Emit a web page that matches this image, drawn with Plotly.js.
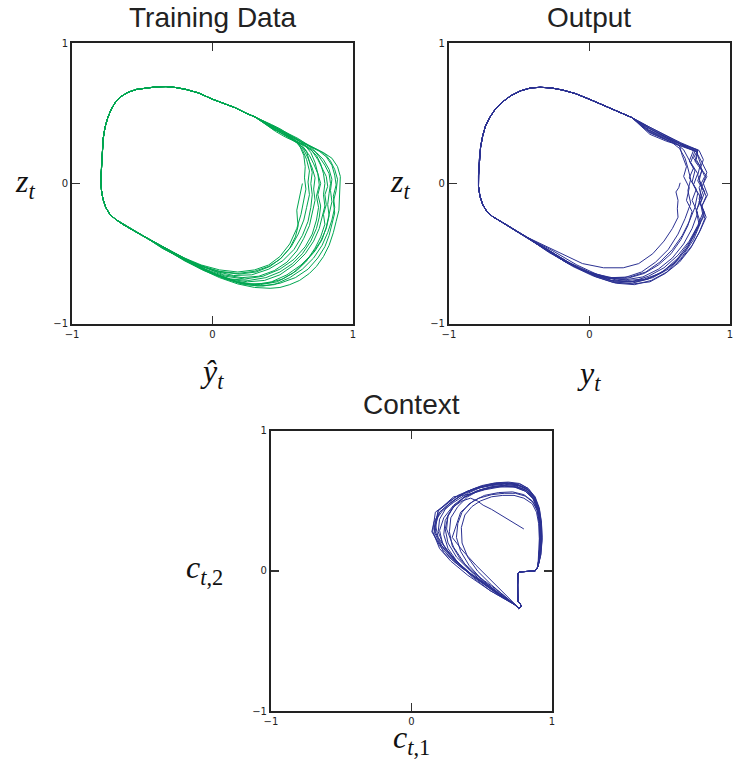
<!DOCTYPE html>
<html><head><meta charset="utf-8">
<script src="https://cdn.plot.ly/plotly-3.0.1.min.js"></script>
<style>html,body{margin:0;padding:0;background:#fff}#chart{width:734px;height:767px}</style>
</head><body><div id="chart"></div>
<script>
// ---------- axis ticks ----------
const tickValues = [-1, 0, 1];
const tickLabels = ['\u22121', '0', '1'];

// ---------- Training Data: points are [y_hat, z] ----------
const trainStart = [[0.64,0.0],[0.63,-0.05],[0.615,-0.11],[0.6,-0.19],[0.605,-0.26],[0.61,-0.3],[0.59,-0.38],[0.55,-0.46],[0.48,-0.54],[0.4,-0.59],[0.3,-0.625],[0.18,-0.64],[0.05,-0.625],[-0.08,-0.585],[-0.2,-0.535],[-0.32,-0.47],[-0.45,-0.40]];
const trainShared = [[-0.45,-0.40],[-0.52,-0.36],[-0.58,-0.325],[-0.64,-0.29],[-0.69,-0.255],[-0.73,-0.22],[-0.76,-0.17],[-0.78,-0.11],[-0.79,-0.05],[-0.795,0.02],[-0.79,0.12],[-0.785,0.22],[-0.778,0.32],[-0.765,0.40],[-0.745,0.47],[-0.72,0.53],[-0.69,0.58],[-0.65,0.62],[-0.6,0.65],[-0.54,0.67],[-0.47,0.68],[-0.4,0.688],[-0.33,0.69],[-0.26,0.683],[-0.19,0.67],[-0.1,0.645],[0.0,0.6],[0.08,0.572],[0.16,0.54],[0.24,0.5],[0.3,0.475]];
const trainLoop1 = [[0.3,0.475],[0.37,0.44],[0.44,0.40],[0.51,0.36],[0.57,0.32],[0.62,0.27],[0.65,0.2],[0.66,0.12],[0.655,0.04],[0.665,-0.04],[0.65,-0.12],[0.63,-0.22],[0.6,-0.32],[0.55,-0.43],[0.48,-0.52],[0.4,-0.58],[0.3,-0.615],[0.18,-0.63],[0.05,-0.615],[-0.08,-0.58],[-0.2,-0.53],[-0.32,-0.47],[-0.45,-0.40]];
const trainLoop2 = [[0.3,0.475],[0.38,0.43],[0.45,0.38],[0.52,0.34],[0.58,0.31],[0.63,0.28],[0.67,0.23],[0.69,0.16],[0.71,0.08],[0.7,0.0],[0.71,-0.08],[0.7,-0.17],[0.68,-0.27],[0.64,-0.37],[0.58,-0.47],[0.5,-0.55],[0.4,-0.61],[0.28,-0.65],[0.15,-0.655],[0.02,-0.625],[-0.12,-0.57],[-0.28,-0.49],[-0.45,-0.40]];
const trainLoop3 = [[0.3,0.475],[0.36,0.45],[0.42,0.42],[0.48,0.39],[0.55,0.35],[0.61,0.31],[0.66,0.27],[0.7,0.22],[0.73,0.15],[0.75,0.07],[0.76,-0.01],[0.74,-0.09],[0.755,-0.17],[0.74,-0.26],[0.71,-0.36],[0.66,-0.45],[0.58,-0.54],[0.48,-0.61],[0.36,-0.66],[0.23,-0.68],[0.09,-0.66],[-0.05,-0.61],[-0.19,-0.54],[-0.32,-0.47],[-0.45,-0.40]];
const trainLoop4 = [[0.3,0.475],[0.38,0.42],[0.45,0.37],[0.52,0.33],[0.59,0.3],[0.65,0.27],[0.7,0.24],[0.74,0.2],[0.77,0.14],[0.79,0.07],[0.8,0.0],[0.79,-0.08],[0.8,-0.16],[0.78,-0.24],[0.76,-0.32],[0.72,-0.41],[0.66,-0.5],[0.58,-0.58],[0.48,-0.65],[0.37,-0.69],[0.25,-0.7],[0.12,-0.68],[-0.02,-0.63],[-0.16,-0.56],[-0.3,-0.48],[-0.45,-0.40]];
const trainLoop5 = [[0.3,0.475],[0.37,0.43],[0.44,0.39],[0.5,0.35],[0.56,0.32],[0.62,0.29],[0.68,0.26],[0.74,0.22],[0.79,0.17],[0.83,0.1],[0.85,0.03],[0.84,-0.05],[0.85,-0.13],[0.83,-0.22],[0.81,-0.31],[0.78,-0.4],[0.73,-0.48],[0.66,-0.56],[0.57,-0.64],[0.46,-0.7],[0.34,-0.72],[0.21,-0.71],[0.07,-0.67],[-0.07,-0.61],[-0.21,-0.54],[-0.33,-0.47],[-0.45,-0.40]];
const trainLoop6 = [[0.3,0.475],[0.38,0.43],[0.46,0.39],[0.53,0.35],[0.6,0.31],[0.66,0.28],[0.72,0.25],[0.79,0.22],[0.85,0.18],[0.89,0.12],[0.91,0.05],[0.905,-0.03],[0.9,-0.11],[0.9,-0.19],[0.88,-0.27],[0.86,-0.35],[0.83,-0.44],[0.79,-0.52],[0.74,-0.59],[0.69,-0.64],[0.62,-0.69],[0.55,-0.72],[0.48,-0.74],[0.41,-0.746],[0.3,-0.74],[0.18,-0.715],[0.05,-0.67],[-0.08,-0.61],[-0.21,-0.54],[-0.33,-0.47],[-0.45,-0.40]];
const trainLoop7 = [[0.3,0.475],[0.37,0.44],[0.44,0.4],[0.51,0.36],[0.58,0.32],[0.64,0.29],[0.7,0.26],[0.76,0.23],[0.81,0.19],[0.85,0.13],[0.87,0.06],[0.88,-0.01],[0.86,-0.09],[0.87,-0.17],[0.85,-0.26],[0.82,-0.35],[0.78,-0.44],[0.72,-0.53],[0.64,-0.61],[0.55,-0.67],[0.44,-0.72],[0.32,-0.73],[0.19,-0.71],[0.05,-0.66],[-0.09,-0.6],[-0.23,-0.53],[-0.35,-0.46],[-0.45,-0.40]];
const trainLoop8 = [[0.3,0.475],[0.36,0.44],[0.43,0.41],[0.5,0.37],[0.56,0.33],[0.61,0.29],[0.65,0.24],[0.68,0.18],[0.71,0.11],[0.73,0.04],[0.72,-0.04],[0.73,-0.12],[0.71,-0.21],[0.69,-0.3],[0.65,-0.39],[0.6,-0.48],[0.53,-0.56],[0.44,-0.62],[0.33,-0.66],[0.21,-0.67],[0.08,-0.65],[-0.05,-0.6],[-0.19,-0.54],[-0.32,-0.47],[-0.45,-0.40]];
const trainLoop9 = [[0.3,0.475],[0.38,0.42],[0.44,0.38],[0.49,0.37],[0.55,0.33],[0.6,0.3],[0.66,0.27],[0.71,0.23],[0.75,0.17],[0.78,0.11],[0.81,0.05],[0.82,-0.02],[0.8,-0.08],[0.81,-0.15],[0.79,-0.22],[0.8,-0.29],[0.77,-0.38],[0.73,-0.46],[0.67,-0.55],[0.6,-0.62],[0.5,-0.68],[0.39,-0.71],[0.27,-0.715],[0.13,-0.685],[-0.01,-0.63],[-0.15,-0.56],[-0.3,-0.48],[-0.45,-0.40]];
const trainLoop10 = [[0.3,0.475],[0.39,0.42],[0.47,0.37],[0.54,0.33],[0.6,0.29],[0.65,0.25],[0.69,0.2],[0.72,0.14],[0.75,0.07],[0.77,0.0],[0.75,-0.08],[0.77,-0.16],[0.76,-0.24],[0.74,-0.32],[0.7,-0.41],[0.64,-0.5],[0.57,-0.57],[0.48,-0.63],[0.38,-0.67],[0.26,-0.69],[0.13,-0.68],[0.0,-0.64],[-0.14,-0.57],[-0.29,-0.49],[-0.45,-0.40]];
const trainLoop11 = [[0.3,0.475],[0.38,0.43],[0.45,0.39],[0.52,0.36],[0.58,0.33],[0.64,0.3],[0.7,0.27],[0.75,0.24],[0.8,0.21],[0.84,0.16],[0.87,0.1],[0.89,0.03],[0.88,-0.05],[0.86,-0.13],[0.87,-0.21],[0.85,-0.29],[0.83,-0.37],[0.8,-0.45],[0.75,-0.53],[0.68,-0.61],[0.59,-0.67],[0.48,-0.71],[0.36,-0.73],[0.23,-0.72],[0.09,-0.68],[-0.06,-0.62],[-0.2,-0.55],[-0.33,-0.47],[-0.45,-0.40]];
const trainLoop12 = [[0.3,0.475],[0.37,0.43],[0.43,0.39],[0.49,0.36],[0.55,0.33],[0.6,0.29],[0.64,0.24],[0.67,0.17],[0.69,0.09],[0.68,0.01],[0.69,-0.08],[0.67,-0.17],[0.65,-0.26],[0.61,-0.36],[0.56,-0.45],[0.49,-0.53],[0.41,-0.59],[0.31,-0.63],[0.19,-0.645],[0.06,-0.63],[-0.08,-0.59],[-0.22,-0.53],[-0.34,-0.47],[-0.45,-0.40]];
const trainLoop13 = [[0.3,0.475],[0.37,0.44],[0.43,0.41],[0.49,0.38],[0.55,0.35],[0.61,0.32],[0.67,0.28],[0.72,0.24],[0.76,0.19],[0.8,0.13],[0.83,0.07],[0.84,0.0],[0.83,-0.07],[0.82,-0.15],[0.83,-0.23],[0.81,-0.32],[0.77,-0.41],[0.71,-0.5],[0.63,-0.58],[0.53,-0.65],[0.42,-0.7],[0.3,-0.72],[0.17,-0.7],[0.03,-0.65],[-0.11,-0.59],[-0.25,-0.52],[-0.36,-0.46],[-0.45,-0.40]];

// ---------- Output: points are [y, z] ----------
const outStart = [[0.645,0.005],[0.635,-0.03],[0.615,-0.06],[0.63,-0.12],[0.625,-0.18],[0.63,-0.24],[0.59,-0.32],[0.53,-0.41],[0.45,-0.5],[0.35,-0.57],[0.24,-0.6],[0.1,-0.6],[-0.05,-0.57],[-0.2,-0.5],[-0.33,-0.44],[-0.45,-0.38]];
const outShared = [[-0.45,-0.38],[-0.52,-0.34],[-0.58,-0.30],[-0.64,-0.265],[-0.69,-0.235],[-0.73,-0.2],[-0.76,-0.15],[-0.78,-0.09],[-0.79,-0.02],[-0.79,0.06],[-0.785,0.16],[-0.775,0.26],[-0.76,0.34],[-0.74,0.41],[-0.71,0.47],[-0.67,0.53],[-0.62,0.58],[-0.56,0.625],[-0.49,0.66],[-0.42,0.68],[-0.35,0.685],[-0.27,0.68],[-0.19,0.665],[-0.1,0.64],[0.0,0.6],[0.08,0.565],[0.16,0.53],[0.24,0.495],[0.3,0.47]];
const outLoop1 = [[0.3,0.47],[0.43,0.4],[0.55,0.34],[0.65,0.285],[0.77,0.235],[0.76,0.17],[0.8,0.1],[0.78,0.02],[0.82,-0.06],[0.79,-0.14],[0.81,-0.24],[0.76,-0.34],[0.7,-0.45],[0.62,-0.55],[0.52,-0.63],[0.41,-0.68],[0.29,-0.7],[0.16,-0.69],[0.02,-0.645],[-0.13,-0.58],[-0.29,-0.49],[-0.45,-0.38]];
const outLoop2 = [[0.3,0.47],[0.43,0.38],[0.55,0.32],[0.64,0.28],[0.75,0.23],[0.72,0.15],[0.77,0.07],[0.74,-0.01],[0.79,-0.1],[0.76,-0.2],[0.78,-0.29],[0.74,-0.38],[0.68,-0.48],[0.6,-0.57],[0.5,-0.64],[0.39,-0.68],[0.27,-0.69],[0.14,-0.67],[0.0,-0.63],[-0.15,-0.56],[-0.3,-0.47],[-0.45,-0.38]];
const outLoop3 = [[0.3,0.47],[0.43,0.39],[0.55,0.33],[0.65,0.28],[0.76,0.225],[0.8,0.15],[0.835,0.08],[0.81,0.0],[0.84,-0.08],[0.8,-0.16],[0.82,-0.25],[0.78,-0.35],[0.72,-0.46],[0.64,-0.56],[0.54,-0.64],[0.43,-0.7],[0.31,-0.715],[0.18,-0.7],[0.04,-0.655],[-0.11,-0.585],[-0.28,-0.48],[-0.45,-0.38]];
const outLoop4 = [[0.3,0.47],[0.42,0.37],[0.52,0.32],[0.59,0.29],[0.64,0.25],[0.68,0.18],[0.7,0.11],[0.72,0.03],[0.7,-0.05],[0.72,-0.14],[0.68,-0.25],[0.63,-0.36],[0.56,-0.47],[0.47,-0.56],[0.37,-0.63],[0.25,-0.67],[0.12,-0.67],[-0.02,-0.63],[-0.17,-0.56],[-0.31,-0.47],[-0.45,-0.38]];
const outLoop5 = [[0.3,0.47],[0.43,0.39],[0.55,0.325],[0.65,0.28],[0.77,0.24],[0.74,0.18],[0.79,0.12],[0.82,0.05],[0.78,-0.03],[0.8,-0.11],[0.76,-0.19],[0.79,-0.28],[0.74,-0.4],[0.66,-0.52],[0.56,-0.61],[0.45,-0.67],[0.33,-0.7],[0.2,-0.69],[0.06,-0.65],[-0.09,-0.58],[-0.26,-0.48],[-0.45,-0.38]];
const outLoop6 = [[0.3,0.47],[0.43,0.36],[0.54,0.31],[0.64,0.27],[0.74,0.235],[0.71,0.16],[0.75,0.09],[0.73,0.01],[0.77,-0.07],[0.75,-0.17],[0.71,-0.27],[0.66,-0.37],[0.59,-0.47],[0.5,-0.56],[0.4,-0.63],[0.29,-0.665],[0.16,-0.67],[0.02,-0.64],[-0.13,-0.58],[-0.29,-0.48],[-0.45,-0.38]];
const outLoop7 = [[0.3,0.47],[0.43,0.4],[0.55,0.34],[0.65,0.29],[0.78,0.235],[0.81,0.17],[0.79,0.11],[0.835,0.05],[0.8,-0.02],[0.83,-0.09],[0.8,-0.16],[0.83,-0.24],[0.79,-0.33],[0.73,-0.44],[0.65,-0.54],[0.55,-0.63],[0.44,-0.69],[0.32,-0.72],[0.19,-0.71],[0.05,-0.665],[-0.1,-0.59],[-0.27,-0.49],[-0.45,-0.38]];
const outLoop8 = [[0.3,0.47],[0.42,0.38],[0.52,0.33],[0.61,0.29],[0.67,0.24],[0.7,0.18],[0.74,0.11],[0.71,0.04],[0.76,-0.04],[0.73,-0.12],[0.77,-0.21],[0.73,-0.32],[0.67,-0.43],[0.59,-0.53],[0.49,-0.61],[0.38,-0.665],[0.26,-0.685],[0.13,-0.675],[-0.01,-0.635],[-0.16,-0.565],[-0.31,-0.47],[-0.45,-0.38]];
const outLoop9 = [[0.3,0.47],[0.43,0.35],[0.55,0.3],[0.65,0.27],[0.76,0.23],[0.79,0.14],[0.77,0.06],[0.8,-0.02],[0.78,-0.11],[0.81,-0.2],[0.77,-0.3],[0.71,-0.41],[0.63,-0.51],[0.53,-0.6],[0.42,-0.66],[0.3,-0.7],[0.17,-0.695],[0.03,-0.655],[-0.12,-0.585],[-0.28,-0.48],[-0.45,-0.38]];
const outLoop10 = [[0.3,0.47],[0.43,0.39],[0.55,0.33],[0.65,0.28],[0.77,0.23],[0.75,0.16],[0.8,0.09],[0.77,0.02],[0.81,-0.05],[0.78,-0.13],[0.82,-0.21],[0.77,-0.31],[0.71,-0.42],[0.63,-0.53],[0.53,-0.62],[0.42,-0.68],[0.3,-0.71],[0.17,-0.705],[0.03,-0.66],[-0.12,-0.59],[-0.28,-0.49],[-0.45,-0.38]];
const outLoop11 = [[0.3,0.47],[0.43,0.37],[0.55,0.31],[0.64,0.27],[0.66,0.2],[0.69,0.12],[0.67,0.05],[0.71,-0.03],[0.69,-0.12],[0.73,-0.2],[0.7,-0.3],[0.65,-0.4],[0.58,-0.5],[0.49,-0.58],[0.39,-0.64],[0.27,-0.675],[0.14,-0.675],[0.0,-0.64],[-0.15,-0.57],[-0.3,-0.48],[-0.45,-0.38]];

// ---------- Context: points are [c1, c2] ----------
const ctxStart = [[0.8,0.3],[0.72,0.35],[0.64,0.4],[0.57,0.44],[0.51,0.47],[0.47,0.5],[0.42,0.52],[0.36,0.5],[0.3,0.46],[0.26,0.39],[0.24,0.3],[0.26,0.2],[0.32,0.1],[0.41,0.01],[0.52,-0.07],[0.64,-0.16],[0.75,-0.25]];
const ctxShared = [[0.75,-0.25],[0.765,-0.268],[0.78,-0.255],[0.775,-0.235],[0.758,-0.22],[0.755,-0.17],[0.755,-0.1],[0.756,-0.05],[0.758,-0.02],[0.77,-0.006],[0.8,-0.004],[0.84,-0.004],[0.88,0.0],[0.9,0.03]];
const ctxLoop1 = [[0.9,0.03],[0.915,0.12],[0.925,0.24],[0.92,0.35],[0.905,0.45],[0.875,0.53],[0.82,0.59],[0.75,0.62],[0.67,0.63],[0.58,0.625],[0.48,0.6],[0.38,0.56],[0.28,0.49],[0.2,0.42],[0.16,0.35],[0.145,0.28],[0.18,0.22],[0.27,0.12],[0.42,-0.02],[0.6,-0.15],[0.75,-0.25]];
const ctxLoop2 = [[0.9,0.03],[0.91,0.12],[0.915,0.24],[0.91,0.35],[0.895,0.45],[0.865,0.52],[0.81,0.58],[0.74,0.61],[0.66,0.62],[0.57,0.61],[0.47,0.59],[0.37,0.55],[0.27,0.48],[0.2,0.42],[0.17,0.33],[0.19,0.24],[0.25,0.15],[0.34,0.05],[0.46,-0.05],[0.62,-0.16],[0.75,-0.25]];
const ctxLoop3 = [[0.9,0.03],[0.92,0.11],[0.93,0.22],[0.925,0.34],[0.91,0.44],[0.88,0.52],[0.83,0.58],[0.76,0.61],[0.68,0.615],[0.59,0.605],[0.49,0.58],[0.39,0.54],[0.3,0.47],[0.23,0.38],[0.2,0.29],[0.22,0.2],[0.28,0.11],[0.37,0.02],[0.48,-0.07],[0.62,-0.17],[0.75,-0.25]];
const ctxLoop4 = [[0.9,0.03],[0.91,0.13],[0.92,0.25],[0.915,0.36],[0.9,0.45],[0.87,0.53],[0.82,0.585],[0.76,0.615],[0.68,0.625],[0.6,0.62],[0.5,0.6],[0.4,0.57],[0.3,0.52],[0.17,0.42],[0.15,0.28],[0.2,0.18],[0.3,0.07],[0.44,-0.04],[0.6,-0.15],[0.75,-0.25]];
const ctxLoop5 = [[0.9,0.03],[0.91,0.12],[0.915,0.24],[0.91,0.35],[0.895,0.43],[0.865,0.49],[0.81,0.535],[0.74,0.555],[0.66,0.555],[0.57,0.545],[0.48,0.52],[0.41,0.48],[0.36,0.42],[0.33,0.34],[0.32,0.24],[0.35,0.14],[0.41,0.04],[0.5,-0.06],[0.62,-0.16],[0.75,-0.25]];
const ctxLoop6 = [[0.9,0.03],[0.915,0.12],[0.92,0.23],[0.915,0.34],[0.9,0.44],[0.87,0.52],[0.82,0.575],[0.75,0.6],[0.67,0.61],[0.58,0.6],[0.49,0.58],[0.4,0.53],[0.33,0.46],[0.28,0.38],[0.27,0.28],[0.29,0.18],[0.35,0.08],[0.44,-0.02],[0.57,-0.13],[0.75,-0.25]];
const ctxLoop7 = [[0.9,0.03],[0.92,0.12],[0.925,0.24],[0.92,0.35],[0.905,0.45],[0.875,0.53],[0.82,0.585],[0.75,0.615],[0.67,0.625],[0.57,0.615],[0.45,0.59],[0.33,0.54],[0.19,0.43],[0.16,0.3],[0.22,0.17],[0.31,0.07],[0.43,-0.03],[0.58,-0.14],[0.75,-0.25]];
const ctxLoop8 = [[0.9,0.03],[0.91,0.12],[0.92,0.23],[0.915,0.34],[0.9,0.44],[0.87,0.52],[0.82,0.575],[0.75,0.6],[0.66,0.61],[0.56,0.6],[0.46,0.57],[0.37,0.52],[0.29,0.45],[0.24,0.36],[0.23,0.26],[0.26,0.16],[0.33,0.06],[0.43,-0.04],[0.56,-0.14],[0.75,-0.25]];
const ctxLoop9 = [[0.9,0.03],[0.905,0.12],[0.91,0.23],[0.905,0.34],[0.89,0.42],[0.86,0.48],[0.8,0.52],[0.73,0.54],[0.65,0.54],[0.57,0.53],[0.49,0.5],[0.43,0.46],[0.38,0.4],[0.355,0.31],[0.36,0.2],[0.4,0.1],[0.47,0.0],[0.57,-0.1],[0.75,-0.25]];
const ctxLoop10 = [[0.9,0.03],[0.915,0.11],[0.925,0.22],[0.92,0.34],[0.905,0.45],[0.875,0.53],[0.83,0.59],[0.77,0.62],[0.69,0.63],[0.6,0.625],[0.5,0.6],[0.4,0.555],[0.3,0.49],[0.22,0.43],[0.17,0.36],[0.16,0.26],[0.2,0.16],[0.28,0.07],[0.4,-0.03],[0.56,-0.14],[0.75,-0.25]];
const ctxLoop11 = [[0.9,0.03],[0.91,0.12],[0.915,0.24],[0.91,0.35],[0.895,0.44],[0.865,0.515],[0.81,0.57],[0.74,0.6],[0.66,0.605],[0.57,0.595],[0.47,0.57],[0.38,0.53],[0.31,0.47],[0.26,0.4],[0.25,0.3],[0.3,0.17],[0.38,0.05],[0.5,-0.06],[0.63,-0.17],[0.75,-0.25]];
const ctxLoop12 = [[0.9,0.03],[0.92,0.12],[0.93,0.24],[0.925,0.35],[0.91,0.45],[0.88,0.53],[0.83,0.59],[0.77,0.625],[0.69,0.635],[0.6,0.63],[0.5,0.61],[0.4,0.57],[0.31,0.51],[0.24,0.44],[0.2,0.37],[0.19,0.28],[0.23,0.18],[0.31,0.08],[0.42,-0.02],[0.57,-0.13],[0.75,-0.25]];
const ctxLoop13 = [[0.9,0.03],[0.915,0.12],[0.92,0.24],[0.915,0.35],[0.9,0.45],[0.87,0.52],[0.81,0.57],[0.73,0.6],[0.63,0.6],[0.52,0.58],[0.42,0.55],[0.3,0.53],[0.19,0.43],[0.167,0.27],[0.23,0.13],[0.36,0.02],[0.5,-0.07],[0.63,-0.16],[0.75,-0.25]];
const ctxLoop14 = [[0.9,0.03],[0.91,0.12],[0.915,0.24],[0.91,0.35],[0.895,0.44],[0.86,0.5],[0.8,0.545],[0.72,0.565],[0.62,0.56],[0.52,0.54],[0.44,0.5],[0.35,0.42],[0.29,0.24],[0.36,0.15],[0.46,0.04],[0.58,-0.08],[0.68,-0.18],[0.75,-0.25]];

const trainLoops = [trainLoop1, trainLoop2, trainLoop3, trainLoop4, trainLoop5, trainLoop6, trainLoop7, trainLoop8, trainLoop9, trainLoop10, trainLoop11, trainLoop12, trainLoop13];
const outLoops = [outLoop1, outLoop2, outLoop3, outLoop4, outLoop5, outLoop6, outLoop7, outLoop8, outLoop9, outLoop10, outLoop11];
const ctxLoops = [ctxLoop1, ctxLoop2, ctxLoop3, ctxLoop4, ctxLoop5, ctxLoop6, ctxLoop7, ctxLoop8, ctxLoop9, ctxLoop10, ctxLoop11, ctxLoop12, ctxLoop13, ctxLoop14];

// ---------- assemble continuous trajectories ----------
function chain(start, shared, loops) {
  let pts = start.slice();
  loops.forEach(function (lp) { pts = pts.concat(shared.slice(1), lp.slice(1)); });
  return {x: pts.map(function (p) { return p[0]; }), y: pts.map(function (p) { return p[1]; })};
}
const tr = chain(trainStart, trainShared, trainLoops);
const ou = chain(outStart, outShared, outLoops);
const cx = chain(ctxStart, ctxShared, ctxLoops);

const GREEN = '#00a650';
const BLUE = '#2b3192';

const traces = [
  {x: tr.x, y: tr.y, xaxis: 'x', yaxis: 'y', mode: 'lines', line: {color: GREEN, width: 1}, hoverinfo: 'skip'},
  {x: ou.x, y: ou.y, xaxis: 'x2', yaxis: 'y2', mode: 'lines', line: {color: BLUE, width: 1}, hoverinfo: 'skip'},
  {x: cx.x, y: cx.y, xaxis: 'x3', yaxis: 'y3', mode: 'lines', line: {color: BLUE, width: 1}, hoverinfo: 'skip'}
];

function ax(domain, anchor) {
  return {
    domain: domain, anchor: anchor, range: [-1, 1], autorange: false,
    tickmode: 'array', tickvals: tickValues, ticktext: tickLabels,
    ticks: 'inside', ticklen: 8, tickwidth: 1.5, tickcolor: '#333',
    showline: true, linewidth: 2, linecolor: '#222', mirror: 'ticks',
    showgrid: false, zeroline: false, fixedrange: true,
    tickfont: {family: 'DejaVu Sans, sans-serif', size: 10, color: '#222'}
  };
}

const topY = [0.5776, 0.9439], botY = [0.0730, 0.4381];
const titleFont = {family: 'Liberation Sans, Arial, sans-serif', size: 28, color: '#222'};
const mathFont = {family: 'Liberation Serif, Times New Roman, serif', size: 32, color: '#111'};

function ann(text, x, y, font) {
  return {text: text, x: x, y: y, xref: 'paper', yref: 'paper', xanchor: 'center', yanchor: 'middle', showarrow: false, font: font};
}

const layout = {
  width: 734, height: 767,
  margin: {l: 0, r: 0, t: 0, b: 0},
  paper_bgcolor: '#fff', plot_bgcolor: '#fff',
  showlegend: false,
  xaxis: ax([0.0981, 0.4809], 'y'),
  yaxis: ax(topY, 'x'),
  xaxis2: ax([0.6117, 0.9946], 'y2'),
  yaxis2: ax(topY, 'x2'),
  xaxis3: ax([0.3692, 0.7520], 'y3'),
  yaxis3: ax(botY, 'x3'),
  annotations: [
    ann('Training Data', 0.2895, 0.977, titleFont),
    ann('Output', 0.8031, 0.977, titleFont),
    ann('Context', 0.5606, 0.473, titleFont),
    ann('<i>z</i><sub><i>t</i></sub>', 0.034, 0.761, mathFont),
    ann('<i>z</i><sub><i>t</i></sub>', 0.545, 0.761, mathFont),
    ann('<i>ŷ</i><sub><i>t</i></sub>', 0.2895, 0.513, mathFont),
    ann('<i>y</i><sub><i>t</i></sub>', 0.8031, 0.511, mathFont),
    ann('<i>c</i><sub><i>t</i>,2</sub>', 0.279, 0.257, mathFont),
    ann('<i>c</i><sub><i>t</i>,1</sub>', 0.5606, 0.036, mathFont)
  ]
};

Plotly.newPlot('chart', traces, layout, {displayModeBar: false, staticPlot: true});
</script></body></html>
